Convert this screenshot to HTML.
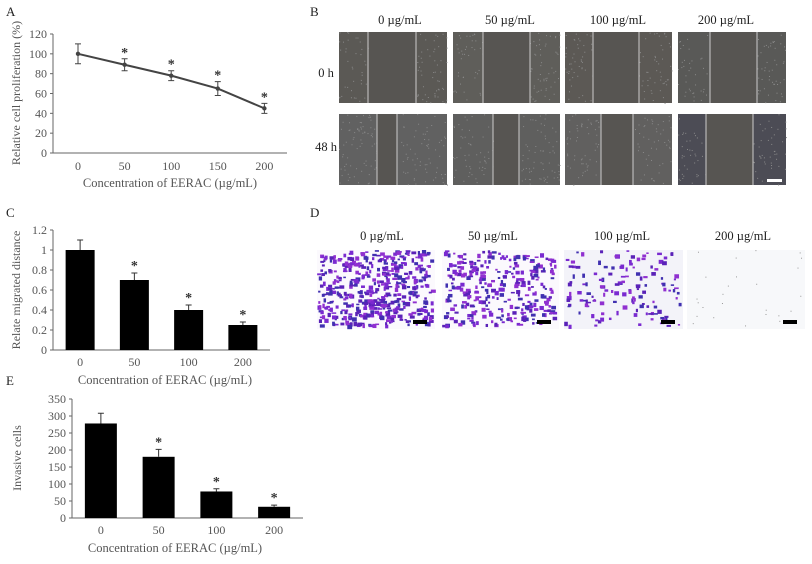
<!DOCTYPE html>
<html><head><meta charset="utf-8"><style>
body{margin:0;background:#fff;}
svg{display:block;font-family:"Liberation Serif",serif;}
</style></head><body>
<svg id="fig" width="812" height="564" viewBox="0 0 812 564">
<rect width="812" height="564" fill="#fff"/>
<g id="pA"></g>
<g id="pC"></g>
<g id="pE"></g>
<g id="pB"></g>
<g id="pD"></g>
</svg>
<script>
const NS="http://www.w3.org/2000/svg";
function mk(p,t,a,txt){const e=document.createElementNS(NS,t);for(const k in a)e.setAttribute(k,a[k]);if(txt!==undefined)e.textContent=txt;p.appendChild(e);return e;}

// Panel A data
const aCats=["0","50","100","150","200"];
const aVals=[100,89,78,65,45];
const aErr=[10,6,5,7,5];
const aSig=[false,true,true,true,true];
const aTicks=[0,20,40,60,80,100,120];
// Panel C data
const cCats=["0","50","100","200"];
const cVals=[1.0,0.7,0.4,0.25];
const cErr=[0.1,0.07,0.05,0.03];
const cSig=[false,true,true,true];
const cTicks=[0,0.2,0.4,0.6,0.8,1,1.2];
// Panel E data
const eCats=["0","50","100","200"];
const eVals=[278,180,78,33];
const eErr=[30,22,8,5];
const eSig=[false,true,true,true];
const eTicks=[0,50,100,150,200,250,300,350];

const gray="#555";
function axes(g,o){
  const y=v=>o.y0-(v-o.min)/(o.max-o.min)*(o.y0-o.y1);
  const ax=mk(g,"line",{x1:o.ax,y1:o.y1,x2:o.ax,y2:o.y0,stroke:"#666","stroke-width":1});
  
  
  const bx=mk(g,"line",{x1:o.ax,y1:o.y0,x2:o.axEnd,y2:o.y0,stroke:"#666","stroke-width":1});
  
  
  o.ticks.forEach(t=>{
    const tk=mk(g,"line",{x1:o.ax-3,x2:o.ax,y1:y(t),y2:y(t),stroke:"#666"});
    
    
    const tl=mk(g,"text",{x:o.ax-6,y:y(t)+4,"text-anchor":"end","font-size":12,fill:gray},String(t));
    
    
  });
  const yt=mk(g,"text",{x:0,y:0,transform:`translate(${o.ytx},${o.yty}) rotate(-90)`,"text-anchor":"middle","font-size":12,fill:gray},o.ytitle);
  
  
  const xt=mk(g,"text",{x:o.xtx,y:o.xty,"text-anchor":"middle","font-size":12.5,fill:gray},"Concentration of EERAC (\u00b5g/mL)");
  
  
  const pl=mk(g,"text",{x:6,y:o.ly,"font-size":13,fill:"#222"},o.letter);
  
  
  return y;
}
function errbar(g,x,yt,yb,w){
  const e=mk(g,"path",{d:`M${x},${yt}V${yb}M${x-w},${yt}H${x+w}M${x-w},${yb}H${x+w}`,stroke:"#444",fill:"none","stroke-width":1});
  
  
}
function star(g,x,y){
  const s=mk(g,"text",{x:x,y:y,"text-anchor":"middle","font-size":14,"font-weight":"bold",fill:"#333"},"*");
  
  
}

// A
(function(){
  const g=document.getElementById("pA");
  const y=axes(g,{ax:53,axEnd:287,y0:153,y1:34,min:0,max:120,ticks:aTicks,ytitle:"Relative cell proliferation (%)",ytx:20,yty:93,xtx:170,xty:187,ly:16,letter:"A"});
  const x=i=>78+i*46.6;
  aCats.forEach((c,i)=>{const t=mk(g,"text",{x:x(i),y:170,"text-anchor":"middle","font-size":12,fill:gray},c);
    });
  const ln=mk(g,"polyline",{points:aVals.map((v,i)=>x(i)+","+y(v)).join(" "),fill:"none",stroke:"#444","stroke-width":2});
  
  
  aVals.forEach((v,i)=>{
    errbar(g,x(i),y(v+aErr[i]),y(v-aErr[i]),3);
    const p=mk(g,"circle",{cx:x(i),cy:y(v),r:2.2,fill:"#444"});
    
    if(aSig[i])star(g,x(i),y(v+aErr[i])-2);
  });
})();

function bars(id,cats,vals,err,sig,o){
  const g=document.getElementById(id);
  const y=axes(g,o);
  const bw=(o.axEnd-o.ax)/cats.length;
  const x=i=>o.ax+bw*(i+0.5);
  cats.forEach((c,i)=>{
    const t=mk(g,"text",{x:x(i),y:o.y0+16,"text-anchor":"middle","font-size":12,fill:gray},c);
    
    const b=mk(g,"rect",{x:x(i)-o.w/2,y:y(vals[i]),width:o.w,height:o.y0-y(vals[i]),fill:"#000"});
    
    const e=mk(g,"path",{d:`M${x(i)},${y(vals[i])}V${y(vals[i]+err[i])}M${x(i)-3},${y(vals[i]+err[i])}H${x(i)+3}`,stroke:"#333",fill:"none"});
    
    if(sig[i])star(g,x(i),y(vals[i]+err[i])-3);
  });
}
bars("pC",cCats,cVals,cErr,cSig,{ax:53,axEnd:270,y0:350,y1:230,min:0,max:1.2,ticks:cTicks,w:29,ytitle:"Relate migrated distance",ytx:20,yty:290,xtx:165,xty:384,ly:217,letter:"C"});
bars("pE",eCats,eVals,eErr,eSig,{ax:72,axEnd:303,y0:518,y1:399,min:0,max:350,ticks:eTicks,w:32,ytitle:"Invasive cells",ytx:21,yty:458,xtx:175,xty:552,ly:385,letter:"E"});

// seeded texture generator (decorative)
let seed=7;function rnd(){seed=(seed*16807)%2147483647;return seed/2147483647;}

// B
(function(){
  const g=document.getElementById("pB");
  const L=mk(g,"text",{x:310,y:16,"font-size":13,fill:"#222"},"B");
  const titles=["0 \u00b5g/mL","50 \u00b5g/mL","100 \u00b5g/mL","200 \u00b5g/mL"];
  const tx=[400,510,618,726];
  titles.forEach((t,i)=>{const e=mk(g,"text",{x:tx[i],y:24,"text-anchor":"middle","font-size":12.5,fill:"#222"},t);});
  [["0 h",77],["48 h",151]].forEach(r=>{const e=mk(g,"text",{x:326,y:r[1],"text-anchor":"middle","font-size":12.5,fill:"#222"},r[0]);});
  const cols=[[339,447],[453,560],[565,672],[678,786]];
  const rows=[[32,103],[114,185]];
  const lines=[[[368,416],[483,530],[593,639],[710,757]],[[377,397],[493,519],[601,633],[706,753]]];
  const fills=[["#5b5955","#5f5e5a","#5c5955","#595957"],["#616161","#5f5f5e","#61605f","#4c4c55"]];
  rows.forEach((r,ri)=>cols.forEach((c,ci)=>{
    const im=mk(g,"g",{});
    mk(im,"rect",{x:c[0],y:r[0],width:c[1]-c[0],height:r[1]-r[0],fill:fills[ri][ci]});
    const l=lines[ri][ci];
    mk(im,"rect",{x:l[0],y:r[0],width:l[1]-l[0],height:r[1]-r[0],fill:"#575552"});
    for(let k=0;k<160;k++){const px=c[0]+rnd()*(c[1]-c[0]),py=r[0]+rnd()*(r[1]-r[0]);if(px>l[0]&&px<l[1])continue;mk(im,"rect",{x:px,y:py,width:1,height:1,fill:"#8a8a8a"});}
    mk(im,"line",{x1:l[0],x2:l[0],y1:r[0],y2:r[1],stroke:"#ccc","stroke-width":1});
    mk(im,"line",{x1:l[1],x2:l[1],y1:r[0],y2:r[1],stroke:"#ccc","stroke-width":1});
  }));
  const sb=mk(g,"rect",{x:767,y:179,width:15,height:3,fill:"#fff"});
})();

// D
(function(){
  const g=document.getElementById("pD");
  const L=mk(g,"text",{x:310,y:217,"font-size":13,fill:"#222"},"D");
  const titles=["0 \u00b5g/mL","50 \u00b5g/mL","100 \u00b5g/mL","200 \u00b5g/mL"];
  const tx=[382,493,622,743];
  titles.forEach((t,i)=>{const e=mk(g,"text",{x:tx[i],y:240,"text-anchor":"middle","font-size":12.5,fill:"#222"},t);});
  const cols=[[317,435],[442,559],[564,683],[687,805]];
  const dens=[480,300,140,0];
  const cl=["#7a2ad0","#5a22b8","#9030d0","#4030b0"];
  cols.forEach((c,ci)=>{
    const im=mk(g,"g",{});
    mk(im,"rect",{x:c[0],y:250,width:c[1]-c[0],height:79,fill:ci==3?"#f7f8fa":(ci==2?"#f3f3f9":"#fbf9fd")});
    for(let k=0;k<dens[ci];k++){const px=c[0]+rnd()*(c[1]-c[0]-4),py=250+rnd()*75;
      mk(im,"rect",{x:px,y:py,width:2+rnd()*3,height:1.5+rnd()*3,fill:cl[Math.floor(rnd()*4)]});}
    if(ci==3)for(let k=0;k<25;k++)mk(im,"rect",{x:c[0]+rnd()*115,y:250+rnd()*76,width:1,height:1,fill:"#999"});
    const sb=mk(g,"rect",{x:c[1]-22,y:320,width:14,height:4,fill:"#000"});
  });
})();
</script>
</body></html>
